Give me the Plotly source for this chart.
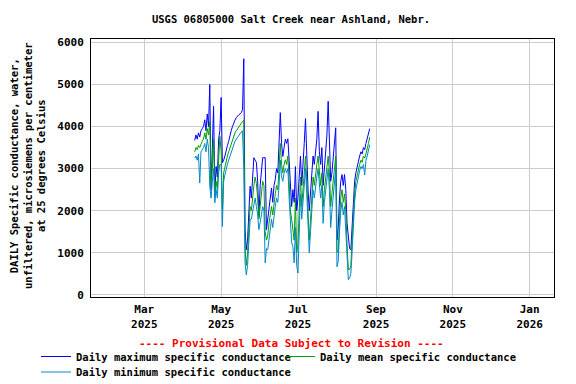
import pandas as pd
import plotly.graph_objects as go

start_date = "2025-04-10"

max_vals = [3670, 3800, 3700, 3850, 3750, 3900, 3950, 4000, 4160, 3900,
            4300, 4000, 5000, 2500, 3450, 4480, 2430, 3050, 2800, 3700,
            3900, 4690, 3140, 3200, 3300, 3450, 3550, 3650, 3800, 3900,
            4000, 4100, 4150, 4210, 4250, 4280, 4300, 4330, 4400, 5610,
            1550, 1070, 1300, 1900, 2580, 2300, 2900, 3260, 3200, 3150,
            2700, 1860, 2600, 3000, 3260, 3260, 3260, 1550, 1800, 2100,
            2300, 2540, 2200, 2600, 2740, 3000, 2900, 3500, 4330, 3600,
            3290, 3500, 3700, 3600, 3710, 3200, 2430, 2100, 2500, 2200,
            3050, 2000, 2300, 2900, 3300, 2600, 3000, 3600, 4190, 3200,
            2500, 2000, 2400, 2900, 3300, 3100, 3500, 3700, 4360, 3400,
            3100, 3500, 2600, 3000, 3300, 3800, 4600, 3500, 2700, 2900,
            3200, 3500, 3970, 1300, 1600, 2300, 2700, 2860, 2600, 2860,
            2500, 1700, 1300, 1100, 1070, 1700, 2300, 2700, 2900, 3050,
            3200, 3300, 3400, 3350, 3500, 3450, 3600, 3700, 3800, 3950]

mean_vals = [3400, 3500, 3450, 3550, 3500, 3600, 3650, 3700, 3850, 3700,
             3950, 3800, 4120, 2600, 3000, 3700, 2340, 2700, 2500, 3200,
             3770, 3400, 2020, 2900, 3050, 3200, 3300, 3400, 3500, 3600,
             3700, 3800, 3850, 3900, 3950, 4000, 4050, 4080, 4120, 4150,
             1100, 700, 1000, 1550, 2100, 2000, 2400, 2600, 2800, 2650,
             2300, 1800, 2100, 2400, 2700, 2600, 1500, 1300, 1400, 1700,
             1900, 2100, 1900, 2200, 2400, 2600, 2500, 3000, 3600, 3100,
             2900, 3100, 3210, 3100, 3300, 2700, 2000, 1800, 1500, 1300,
             2300, 1000, 1200, 2300, 2800, 2100, 2500, 3000, 3300, 2700,
             1900, 1300, 1800, 2400, 2800, 2600, 2900, 3100, 3300, 2900,
             2600, 2900, 2100, 2500, 2800, 3100, 3300, 2900, 2100, 2400,
             2700, 3000, 3300, 1070, 1000, 1800, 2300, 2500, 2200, 2400,
             2000, 1200, 600, 600, 700, 1300, 1900, 2400, 2700, 2850,
             3000, 3100, 3200, 3150, 3300, 3250, 3350, 3450, 3600, 3750]

min_vals = [3250, 3300, 3200, 3350, 2660, 3400, 3450, 3500, 3600, 3400,
            3700, 3500, 2580, 2300, 2700, 3000, 2190, 2500, 2300, 2900,
            3100, 3100, 1625, 2700, 2850, 3000, 3100, 3200, 3300, 3400,
            3500, 3600, 3650, 3700, 3750, 3800, 3850, 3870, 3900, 3000,
            760, 475, 700, 1300, 1785, 1800, 1950, 2100, 2300, 2100,
            1900, 1550, 1700, 1900, 2100, 2000, 760, 1100, 1070, 1300,
            1550, 1800, 1600, 1900, 2100, 2300, 2200, 2600, 3200, 2800,
            2700, 2900, 3000, 2900, 3000, 2300, 1850, 1240, 1150, 760,
            1600, 700, 520, 1800, 2400, 1800, 2200, 2700, 3000, 2400,
            1500, 1000, 1500, 2100, 2500, 2300, 2600, 2800, 3000, 2600,
            2300, 2600, 1700, 2200, 2500, 2800, 3000, 2500, 1600, 2000,
            2400, 2700, 3000, 670, 800, 1500, 2000, 2200, 1900, 2100,
            1600, 900, 360, 400, 500, 1000, 1700, 2200, 2500, 2700,
            2800, 2950, 3050, 3000, 3100, 2850, 3200, 3300, 3450, 3570]

dates = pd.date_range(start_date, periods=len(max_vals), freq="D")

FONT = "DejaVu Sans Mono"
OFF = 8                      # page body margin offset of the figure
W, H = 576 - OFF, 384 - OFF  # figure size so it fits in the window
PL, PR, PT, PB = 91, 554, 39, 297          # plot-area box in page pixels
PW, PH = PR - PL, PB - PT


def px_x(x):
    return (x - PL) / PW


def px_y(y):
    return (PB - y) / PH


fig = go.Figure()
fig.add_trace(go.Scatter(x=dates, y=max_vals, mode="lines",
                         name="Daily maximum specific conductance",
                         line=dict(color="#0000ff", width=1), legend="legend"))
fig.add_trace(go.Scatter(x=dates, y=mean_vals, mode="lines",
                         name="Daily mean specific conductance",
                         line=dict(color="#00a000", width=1), legend="legend"))
fig.add_trace(go.Scatter(x=dates, y=min_vals, mode="lines",
                         name="Daily minimum specific conductance",
                         line=dict(color="#0088cc", width=1), legend="legend2"))

legend_font = dict(family=FONT, size=10.5, color="black", weight="bold")

fig.update_layout(
    width=W, height=H,
    margin=dict(l=PL - OFF, r=W - (PR - OFF), t=PT - OFF, b=H - (PB - OFF),
                autoexpand=False),
    paper_bgcolor="white", plot_bgcolor="white",
    font=dict(family=FONT, size=11, color="black", weight="bold"),
    title=dict(text="USGS 06805000 Salt Creek near Ashland, Nebr.",
               x=(291 - OFF) / W, xanchor="center",
               y=1 - (19 - OFF) / H, yanchor="middle",
               font=dict(family=FONT, size=10.5, color="black", weight="bold")),
    showlegend=True,
    legend=dict(orientation="h", x=px_x(36), xanchor="left",
                y=px_y(342), yanchor="top", font=legend_font,
                entrywidth=199, entrywidthmode="pixels",
                tracegroupgap=0, bgcolor="rgba(0,0,0,0)"),
    legend2=dict(orientation="h", x=px_x(36), xanchor="left",
                 y=px_y(357.5), yanchor="top", font=legend_font,
                 tracegroupgap=0, bgcolor="rgba(0,0,0,0)"),
    annotations=[
        dict(text="---- Provisional Data Subject to Revision ----",
             xref="paper", yref="paper", x=px_x(291.5), y=px_y(343),
             xanchor="center", yanchor="middle", showarrow=False,
             font=dict(family=FONT, size=11, color="red", weight="bold")),
        dict(text="DAILY Specific conductance, water,<br>unfiltered, microsiemens per centimeter<br>at 25 degrees Celsius",
             xref="paper", yref="paper", x=px_x(27), y=px_y(166),
             xanchor="center", yanchor="middle", showarrow=False,
             textangle=-90, align="center",
             font=dict(family=FONT, size=10.5, color="black", weight="bold")),
    ],
)

fig.update_xaxes(
    type="date",
    range=["2025-01-17 16:00", "2026-01-20 08:00"],
    tick0="2025-01-01", dtick="M2", tickformat="%b<br>%Y",
    showgrid=True, gridcolor="#cccccc", gridwidth=1,
    showline=True, linecolor="black", linewidth=1, mirror=True,
    ticks="", zeroline=False, automargin=False, ticklabelstandoff=2,
    tickfont=dict(family=FONT, size=11, color="black", weight="bold"),
)
fig.update_yaxes(
    range=[-50, 6080],
    tickvals=[0, 1000, 2000, 3000, 4000, 5000, 6000],
    showgrid=True, gridcolor="#cccccc", gridwidth=1,
    showline=True, linecolor="black", linewidth=1, mirror=True,
    ticks="", zeroline=False, automargin=False, ticklabelstandoff=4,
    tickfont=dict(family=FONT, size=11, color="black", weight="bold"),
)

fig.write_html("out.html")
